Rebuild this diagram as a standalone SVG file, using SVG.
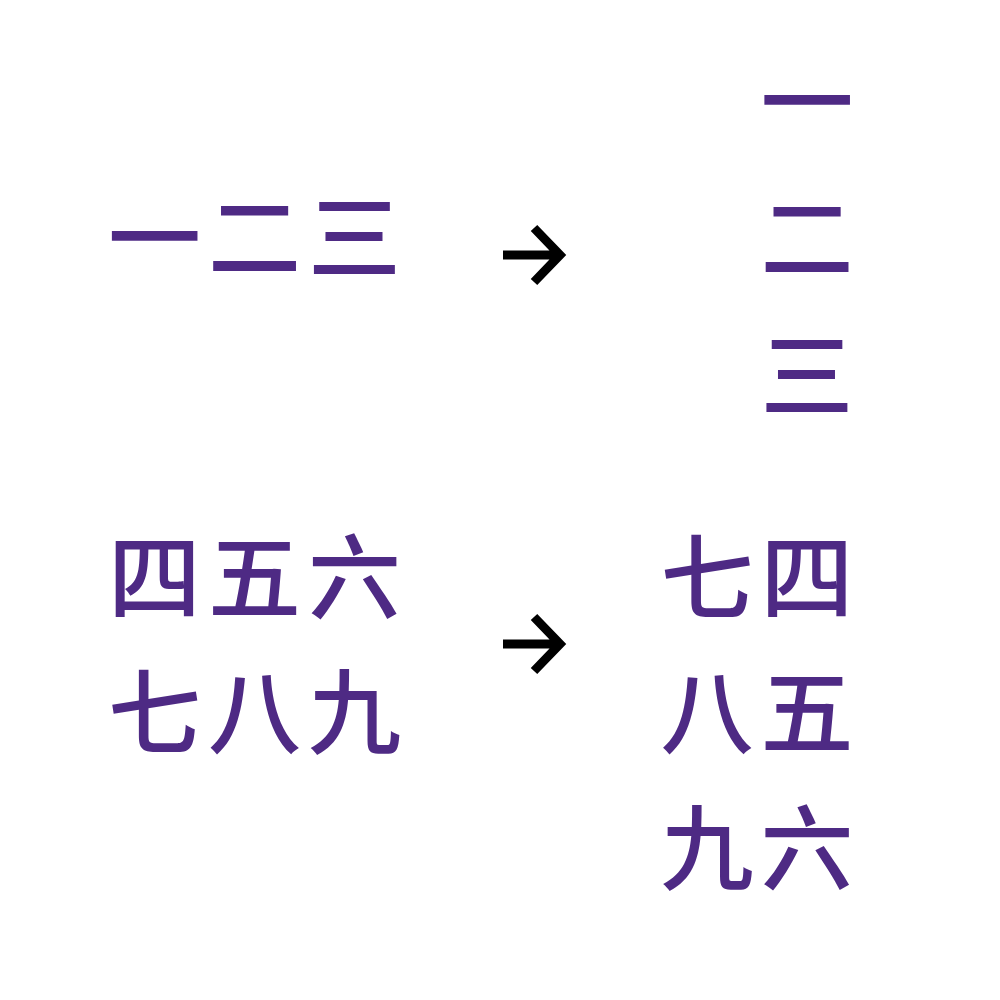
<svg xmlns="http://www.w3.org/2000/svg" width="1000" height="1000" viewBox="0 0 1000 1000">
<style>
.t{font-family:"Noto Sans CJK SC","Noto Sans CJK JP",sans-serif;font-size:93px;font-weight:500;fill:#4E2A84}
.h{letter-spacing:7px}
.v{text-anchor:middle}
.arr{fill:none;stroke:#000;stroke-width:9;stroke-linejoin:miter}
</style>
<rect width="1000" height="1000" fill="#fff"/>
<g id="horizontal-1">
<text class="t h" x="108" y="272">一二三</text>
</g>
<g id="vertical-1">
<text class="t v"><tspan x="807" y="136">一</tspan><tspan x="807" y="273">二</tspan><tspan x="807" y="410">三</tspan></text>
</g>
<g id="horizontal-2">
<text class="t h" x="108" y="612">四五六</text>
<text class="t h" x="108" y="747">七八九</text>
</g>
<g id="vertical-2">
<text class="t v"><tspan x="807" y="612">四</tspan><tspan x="807" y="747">五</tspan><tspan x="807" y="883">六</tspan></text>
<text class="t v"><tspan x="707" y="612">七</tspan><tspan x="707" y="747">八</tspan><tspan x="707" y="883">九</tspan></text>
</g>
<g id="connectors">
<path class="arr" d="M503 255H557M534 228L560 255L534 282"/>
<path class="arr" d="M503 644H557M534 617L560 644L534 671"/>
</g>
</svg>
